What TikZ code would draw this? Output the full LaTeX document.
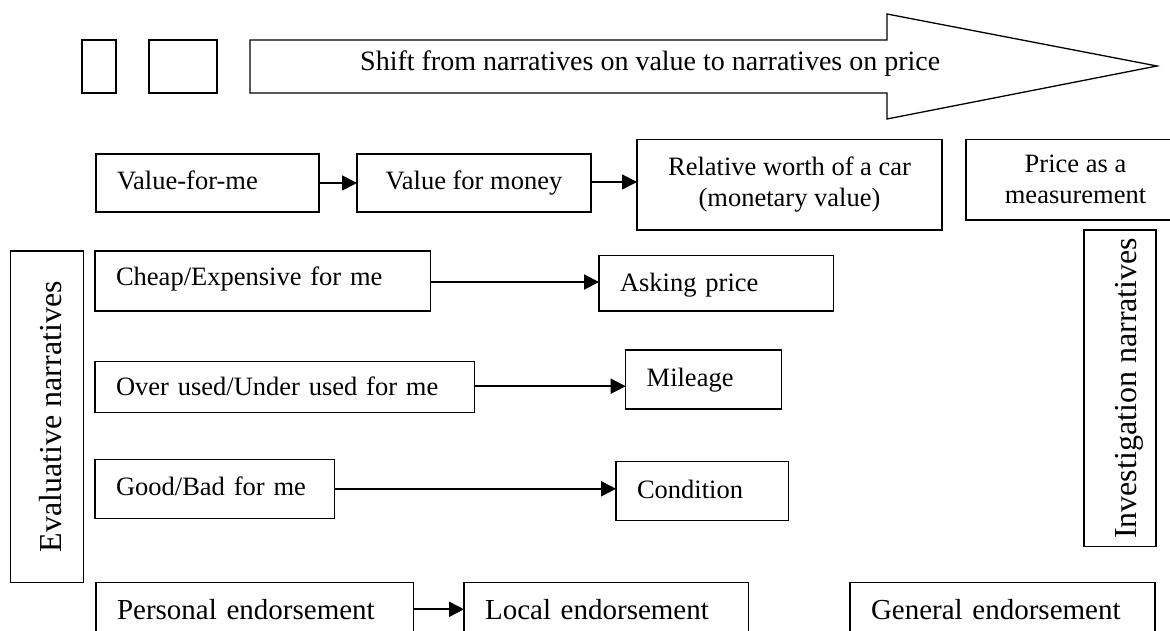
\documentclass[tikz,border=0pt]{standalone}
\usepackage{fontspec}
\setmainfont{Liberation Serif}
\usetikzlibrary{arrows.meta}
\newcommand{\fmid}{\fontsize{26.5pt}{31pt}\selectfont}
\newcommand{\fbot}{\fontsize{29pt}{34pt}\selectfont}
\newcommand{\fside}{\fontsize{32pt}{38pt}\selectfont}
\newcommand{\ftop}{\fontsize{28pt}{33pt}\selectfont}

\begin{document}
\begin{tikzpicture}[x=1pt,y=-1pt,
  frame/.style={draw, line width=1.3pt, inner sep=0pt, outer sep=0pt},
  lbox/.style={frame, font=\fmid, align=left, inner xsep=21pt, inner ysep=0pt, text depth=0pt},
  bbox/.style={frame, font=\fbot, align=left, inner xsep=21pt, inner ysep=0pt, text depth=0pt,
               minimum height=54pt, text height=19.4pt},
  cbox/.style={frame, font=\fmid, align=center},
  side/.style={frame, font=\fside, rotate=90, text depth=0pt},
  conn/.style={line width=1.8pt, -{Triangle[length=15pt,width=15pt]}}
]
\path[use as bounding box] (0,0) rectangle (1170,631);
\clip (0,0) rectangle (1170,631);
\fill[white] (0,0) rectangle (1170,631);

% top row: two empty boxes and the wide arrow
\node[frame, minimum width=34pt, minimum height=53pt] (sqa) at (99,66.5) {};
\node[frame, minimum width=68pt, minimum height=53pt] (sqb) at (183,66.5) {};
\draw[line width=1.3pt, line join=miter]
  (250,40) -- (887,40) -- (887,14) -- (1157,66) -- (887,119) -- (887,93) -- (250,93) -- cycle;
\node[font=\ftop, anchor=base west, inner sep=0pt] (shift) at (360,71)
  {Shift from narratives on value to narratives on price};

% value chain
\node[lbox, minimum width=223pt, text width=181pt, minimum height=58pt, text height=14pt]
  (vfme) at (207.5,183) {Value-for-me};
\node[cbox, minimum width=234pt, minimum height=58pt, text height=14pt, text depth=0pt]
  (vfm) at (474,183) {Value for money};
\node[cbox, minimum width=305pt, minimum height=90.7pt]
  (rw) at (789.5,184.7) {Relative worth of a car\\(monetary value)};
\node[cbox, minimum width=219pt, minimum height=80.7pt]
  (price) at (1075.5,179.7) {Price as a\\measurement};

% side labels
\node[side, minimum width=331.3pt, minimum height=72.6pt, text height=28.4pt]
  (eval) at (47,416.7) {Evaluative narratives};
\node[side, minimum width=316.7pt, minimum height=72pt, text height=33.4pt]
  (inv) at (1120,388.3) {Investigation narratives};

% evaluative rows
\node[lbox, minimum width=335.5pt, text width=293.5pt, minimum height=60pt, text height=9pt]
  (cheap) at (262.8,281) {Cheap/Expensive for me};
\node[lbox, minimum width=234.3pt, text width=192.3pt, minimum height=55.3pt, text height=16.8pt]
  (asking) at (716.2,283.3) {Asking price};
\node[lbox, minimum width=379.3pt, text width=337.3pt, minimum height=51pt, text height=17pt]
  (over) at (284.7,387.2) {Over used/Under used for me};
\node[lbox, minimum width=156pt, text width=114pt, minimum height=59pt, text height=14.4pt]
  (mileage) at (703.7,379.5) {Mileage};
\node[lbox, minimum width=239.3pt, text width=197.3pt, minimum height=59pt, text height=13.8pt]
  (good) at (214.7,488.8) {Good/Bad for me};
\node[lbox, minimum width=172.3pt, text width=130.3pt, minimum height=59pt, text height=14.2pt]
  (cond) at (702.2,491.2) {Condition};

% endorsement row
\node[bbox, minimum width=317.3pt, text width=275.3pt] (pers) at (254.7,609.3) {Personal endorsement};
\node[bbox, minimum width=284.3pt, text width=242.3pt] (local) at (606.2,609.3) {Local endorsement};
\node[bbox, minimum width=305pt, text width=263pt] (gen) at (1002.5,609.3) {General endorsement};

% connectors
\draw[conn] (vfme.east) -- (vfme.east -| vfm.west);
\draw[conn] ([yshift=1pt]vfm.east) -- ([yshift=1pt]vfm.east -| rw.west);
\draw[conn] ([yshift=-1pt]cheap.east) -- ([yshift=-1pt]cheap.east -| asking.west);
\draw[conn] ([yshift=1pt]over.east) -- ([yshift=1pt]over.east -| mileage.west);
\draw[conn] (good.east) -- (good.east -| cond.west);
\draw[conn] (pers.east) -- (pers.east -| local.west);
\end{tikzpicture}
\end{document}
